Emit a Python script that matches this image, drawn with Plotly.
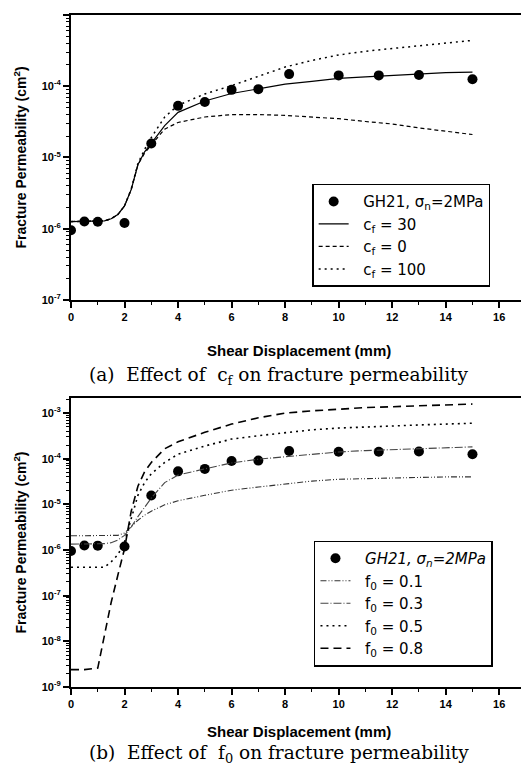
import plotly.graph_objects as go

# ---------------- data ----------------
x_obs = [0, 0.5, 1, 2, 3, 4, 5, 6, 7, 8.15, 10, 11.5, 13, 15]
k_obs = [9.5e-7, 1.26e-6, 1.25e-6, 1.2e-6, 1.57e-5, 5.3e-5, 6.0e-5, 8.9e-5, 9.1e-5,
         1.48e-4, 1.42e-4, 1.42e-4, 1.44e-4, 1.25e-4]

xs = [0, 0.5, 1, 1.25, 1.5, 1.75, 2, 2.25, 2.5, 2.75, 3, 3.5, 4, 5, 6, 7, 8, 9, 10, 11, 12, 13, 14, 15]

# (a) effect of c_f
k_cf30 = [1.26e-6, 1.26e-6, 1.26e-6, 1.29e-6, 1.38e-6, 1.58e-6, 2.09e-6, 3.55e-6, 7.9e-6, 1.2e-5,
          1.58e-5, 2.8e-5, 4.3e-5, 6.2e-5, 7.9e-5, 9.3e-5, 1.07e-4, 1.17e-4, 1.29e-4, 1.35e-4,
          1.41e-4, 1.48e-4, 1.55e-4, 1.58e-4]
k_cf0 = [1.26e-6, 1.26e-6, 1.26e-6, 1.29e-6, 1.38e-6, 1.58e-6, 2.09e-6, 3.55e-6, 7.9e-6, 1.15e-5,
         1.5e-5, 2.5e-5, 3.1e-5, 3.7e-5, 4.0e-5, 4.0e-5, 3.9e-5, 3.7e-5, 3.5e-5, 3.2e-5,
         2.95e-5, 2.6e-5, 2.35e-5, 2.1e-5]
k_cf100 = [1.26e-6, 1.26e-6, 1.26e-6, 1.29e-6, 1.38e-6, 1.58e-6, 2.09e-6, 3.6e-6, 8.2e-6, 1.3e-5,
           1.9e-5, 3.7e-5, 5.4e-5, 7.8e-5, 1.02e-4, 1.38e-4, 1.86e-4, 2.3e-4, 2.75e-4, 3.1e-4,
           3.4e-4, 3.7e-4, 4.1e-4, 4.4e-4]

# (b) effect of f_0
k_f01 = [2.05e-6, 2.05e-6, 2.05e-6, 2.05e-6, 2.05e-6, 2.1e-6, 2.35e-6, 3.2e-6, 4.5e-6, 5.8e-6,
         7.1e-6, 9.8e-6, 1.2e-5, 1.58e-5, 2.05e-5, 2.4e-5, 2.8e-5, 3.24e-5, 3.55e-5, 3.7e-5,
         3.8e-5, 3.9e-5, 4.0e-5, 4.0e-5]
k_f03 = [1.35e-6, 1.35e-6, 1.35e-6, 1.38e-6, 1.45e-6, 1.66e-6, 2.1e-6, 3.2e-6, 5.4e-6, 8.9e-6,
         1.38e-5, 3.0e-5, 4.4e-5, 6.0e-5, 8.1e-5, 9.8e-5, 1.12e-4, 1.26e-4, 1.41e-4, 1.51e-4,
         1.58e-4, 1.66e-4, 1.74e-4, 1.82e-4]
k_f05 = [4.2e-7, 4.2e-7, 4.2e-7, 4.2e-7, 5.5e-7, 7.9e-7, 1.5e-6, 5.0e-6, 1.58e-5, 3.0e-5,
         4.7e-5, 8.3e-5, 1.26e-4, 1.9e-4, 2.7e-4, 3.2e-4, 3.7e-4, 4.3e-4, 4.7e-4, 5.0e-4,
         5.25e-4, 5.5e-4, 5.75e-4, 6.0e-4]
k_f08 = [2.4e-9, 2.4e-9, 2.6e-9, 1.4e-8, 7.1e-8, 2.8e-7, 1.07e-6, 7.1e-6, 2.5e-5, 5.2e-5,
         8.3e-5, 1.66e-4, 2.35e-4, 3.8e-4, 5.75e-4, 7.9e-4, 1.0e-3, 1.12e-3, 1.23e-3, 1.32e-3,
         1.38e-3, 1.45e-3, 1.52e-3, 1.58e-3]

x_ticks = [0, 2, 4, 6, 8, 10, 12, 14, 16]
y_ticks_a = [1e-7, 1e-6, 1e-5, 1e-4, 1e-3]
y_ticks_b = [1e-9, 1e-8, 1e-7, 1e-6, 1e-5, 1e-4, 1e-3]

# ---------------- figure ----------------
FONT = "Liberation Sans, Arial, sans-serif"
LFONT = "DejaVu Sans, Liberation Sans, sans-serif"
SERIF = "DejaVu Serif, Liberation Serif, serif"
SP = "\u00a0\u00a0"
fig = go.Figure()

mk = dict(color="black", size=10)
fig.add_trace(go.Scatter(x=x_obs, y=k_obs, mode="markers", marker=mk,
                         name=SP + "GH21, σ<sub>n</sub>=2MPa", xaxis="x", yaxis="y", legend="legend"))
fig.add_trace(go.Scatter(x=xs, y=k_cf30, mode="lines", line=dict(color="black", width=1.2),
                         name=SP + "c<sub>f</sub> = 30", xaxis="x", yaxis="y", legend="legend"))
fig.add_trace(go.Scatter(x=xs, y=k_cf0, mode="lines", line=dict(color="black", width=1.2, dash="4px,3px"),
                         name=SP + "c<sub>f</sub> = 0", xaxis="x", yaxis="y", legend="legend"))
fig.add_trace(go.Scatter(x=xs, y=k_cf100, mode="lines", line=dict(color="black", width=1.5, dash="2px,4px"),
                         name=SP + "c<sub>f</sub> = 100", xaxis="x", yaxis="y", legend="legend"))

fig.add_trace(go.Scatter(x=x_obs, y=k_obs, mode="markers", marker=mk,
                         name=SP + "<i>GH21, σ<sub>n</sub>=2MPa</i>", xaxis="x2", yaxis="y2", legend="legend2"))
fig.add_trace(go.Scatter(x=xs, y=k_f01, mode="lines",
                         line=dict(color="#333", width=1.1, dash="6px,2px,1px,2px,1px,2px"),
                         name=SP + "f<sub>0</sub> = 0.1", xaxis="x2", yaxis="y2", legend="legend2"))
fig.add_trace(go.Scatter(x=xs, y=k_f03, mode="lines",
                         line=dict(color="#444", width=1.1, dash="8px,2px,1px,2px"),
                         name=SP + "f<sub>0</sub> = 0.3", xaxis="x2", yaxis="y2", legend="legend2"))
fig.add_trace(go.Scatter(x=xs, y=k_f05, mode="lines",
                         line=dict(color="black", width=1.6, dash="2px,4px"),
                         name=SP + "f<sub>0</sub> = 0.5", xaxis="x2", yaxis="y2", legend="legend2"))
fig.add_trace(go.Scatter(x=xs, y=k_f08, mode="lines",
                         line=dict(color="black", width=1.6, dash="8px,5px"),
                         name=SP + "f<sub>0</sub> = 0.8", xaxis="x2", yaxis="y2", legend="legend2"))


def sup_labels(vals):
    import math
    return ["<b>10<sup>%d</sup></b>" % round(math.log10(v)) for v in vals]


def minor_vals(e0, e1):
    return [m * 10.0 ** e for e in range(e0, e1) for m in range(2, 10)]


tickfont = dict(family=FONT, size=11, color="black")
xcommon = dict(range=[0, 17], showline=True, linecolor="black", linewidth=2, mirror=True,
               ticks="outside", ticklen=6, tickwidth=1.5, tickcolor="black",
               tickvals=x_ticks, ticktext=["<b>%d</b>" % v for v in x_ticks],
               tickfont=tickfont, showgrid=False, zeroline=False,
               minor=dict(ticks="outside", ticklen=3, tickwidth=1, tickcolor="black",
                          tickvals=list(range(1, 17, 2)), showgrid=False))
ycommon = dict(type="log", showline=True, linecolor="black", linewidth=2, mirror=True,
               ticks="outside", ticklen=6, tickwidth=1.5, tickcolor="black",
               tickfont=tickfont, showgrid=False, zeroline=False,
               title=dict(text="<b>Fracture Permeability (cm<sup>2</sup>)</b>",
                          font=dict(family=FONT, size=14, color="black"), standoff=12))

legend_common = dict(xanchor="left", yanchor="top", bordercolor="black", borderwidth=1.5,
                     bgcolor="white", font=dict(family=LFONT, size=15, color="black"),
                     tracegroupgap=0, itemwidth=30)

fig.update_layout(
    width=521, height=761,
    margin=dict(l=63, r=1, t=7, b=82),
    paper_bgcolor="white", plot_bgcolor="white",
    showlegend=True,
    xaxis=dict(xcommon, domain=[0, 1], anchor="y"),
    yaxis=dict(ycommon, domain=[0.576, 1], range=[-7, -3], anchor="x",
               tickvals=y_ticks_a, ticktext=sup_labels(y_ticks_a),
               minor=dict(ticks="outside", ticklen=3, tickwidth=1, tickcolor="black",
                          tickvals=minor_vals(-7, -3), showgrid=False)),
    xaxis2=dict(xcommon, domain=[0, 1], anchor="y2"),
    yaxis2=dict(ycommon, domain=[0, 0.43], range=[-9, -2.67], anchor="x2",
                tickvals=y_ticks_b, ticktext=sup_labels(y_ticks_b),
                minor=dict(ticks="outside", ticklen=3, tickwidth=1, tickcolor="black",
                           tickvals=minor_vals(-9, -2), showgrid=False)),
    legend=dict(legend_common, x=0.53, y=0.749),
    legend2=dict(legend_common, x=0.534, y=0.218),
    annotations=[
        dict(text="<b>Shear Displacement (mm)</b>", xref="paper", yref="paper",
             x=0.5, y=(687 - 350) / 672, showarrow=False, yanchor="middle",
             font=dict(family=FONT, size=15, color="black")),
        dict(text="(a)  Effect of  c<sub>f</sub> on fracture permeability", xref="paper", yref="paper",
             x=0.457, y=(687 - 376) / 672, showarrow=False, yanchor="middle",
             font=dict(family=SERIF, size=18.5, color="black")),
        dict(text="<b>Shear Displacement (mm)</b>", xref="paper", yref="paper",
             x=0.5, y=(687 - 731) / 672, showarrow=False, yanchor="middle",
             font=dict(family=FONT, size=15, color="black")),
        dict(text="(b)  Effect of  f<sub>0</sub> on fracture permeability", xref="paper", yref="paper",
             x=0.457, y=(687 - 754) / 672, showarrow=False, yanchor="middle",
             font=dict(family=SERIF, size=18.5, color="black")),
    ],
)

fig.write_html("out.html")
